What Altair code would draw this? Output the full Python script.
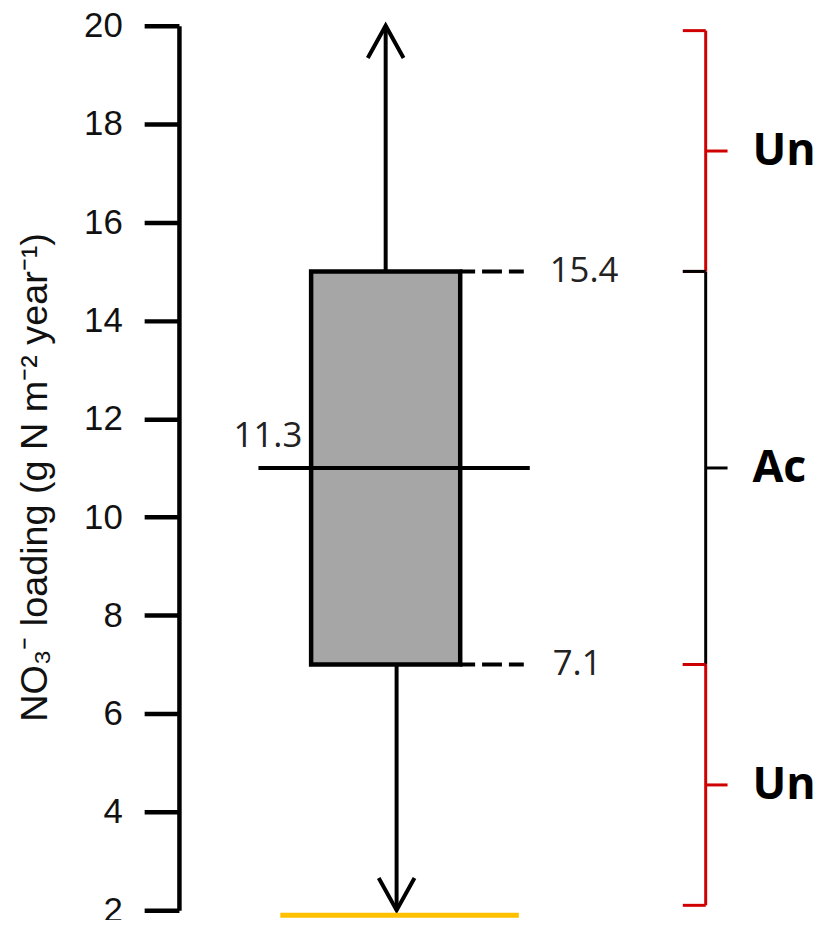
import altair as alt
import pandas as pd

# ---- data ----
y_ticks = [2, 4, 6, 8, 10, 12, 14, 16, 18, 20]
box_low = [7.0]
box_high = [15.0]
median = [11.0]
whisker_top = [20.0]
whisker_bottom = [2.0]
floor_level = [1.9]
value_labels = ["15.4", "11.3", "7.1"]
label_levels = [15.0, 11.0, 7.0]
brace_low = [2.1, 7.0, 15.0]
brace_high = [7.0, 15.0, 19.9]
brace_names = ["Un", "Ac", "Un"]
brace_colors = ["#d00000", "#000000", "#d00000"]

TITLE = "NO₃⁻ loading (g N m⁻² year⁻¹)"
yscale = alt.Scale(domain=[2, 20], nice=False, zero=False)
yaxis = alt.Axis(
    values=y_ticks, format="d",
    title=TITLE,
    titleFont="Liberation Sans", titleFontSize=38, titleFontWeight="normal",
    titleColor="#111111", titleX=-144, titleY=454, titleAngle=270,
    titleAlign="center", titleBaseline="middle",
    labelFont="Liberation Sans", labelFontSize=35, labelColor="#111111",
    labelPadding=22, labelFlush=False, labelOverlap=False,
    tickSize=35, tickWidth=4.5, tickColor="black",
    domainWidth=4.5, domainColor="black", grid=False,
)

def Y(field):
    return alt.Y(field, type="quantitative", scale=yscale, axis=yaxis, title=TITLE)

box_df = pd.DataFrame({"lo": box_low, "hi": box_high})
box = alt.Chart(box_df).mark_rect(fill="#a6a6a6", stroke="black", strokeWidth=4.5).encode(
    x=alt.value(133), x2=alt.value(283), y=Y("lo"), y2="hi:Q")

wt_df = pd.DataFrame({"a": box_high, "b": whisker_top})
wtop = alt.Chart(wt_df).mark_rule(color="black", strokeWidth=4).encode(
    x=alt.value(208), y=Y("a"), y2="b:Q")
wb_df = pd.DataFrame({"a": box_low, "b": whisker_bottom})
wbot = alt.Chart(wb_df).mark_rule(color="black", strokeWidth=4).encode(
    x=alt.value(219), y=Y("a"), y2="b:Q")

head_top = alt.Chart(pd.DataFrame({"v": whisker_top})).mark_point(
    shape="M-1,1.8L0,0L1,1.8", filled=False, size=1296, strokeWidth=4,
    color="black", opacity=1, strokeJoin="miter").encode(x=alt.value(208), y=Y("v"))
head_bot = alt.Chart(pd.DataFrame({"v": whisker_bottom})).mark_point(
    shape="M-1,-1.8L0,0L1,-1.8", filled=False, size=1296, strokeWidth=4,
    color="black", opacity=1, strokeJoin="miter").encode(x=alt.value(219), y=Y("v"))

med = alt.Chart(pd.DataFrame({"v": median})).mark_rule(color="black", strokeWidth=4).encode(
    x=alt.value(80), x2=alt.value(353), y=Y("v"))

dash_df = pd.DataFrame({"v": box_high + box_low})
dashes = alt.Chart(dash_df).mark_rule(color="black", strokeWidth=4, strokeDash=[15, 7, 20, 7]).encode(
    x=alt.value(283), x2=alt.value(352), y=Y("v"))

floor = alt.Chart(pd.DataFrame({"v": floor_level})).mark_rule(color="#ffc000", strokeWidth=5).encode(
    x=alt.value(102), x2=alt.value(342), y=Y("v"))

def vlabel(i, xpos, dy, baseline):
    df = pd.DataFrame({"t": [value_labels[i]], "v": [label_levels[i]]})
    return alt.Chart(df).mark_text(font="Open Sans", fontSize=35, color="#222222",
                                   align="left", baseline=baseline, dy=dy).encode(
        x=alt.value(xpos), y=Y("v"), text="t:N")

lab1 = vlabel(0, 373, 0, "middle")
lab2 = vlabel(1, 55, -21, "alphabetic")
lab3 = vlabel(2, 376, 0, "middle")

br_df = pd.DataFrame({"lo": brace_low, "hi": brace_high, "name": brace_names, "col": brace_colors})
br_df["mid"] = (br_df["lo"] + br_df["hi"]) / 2
colr = alt.Color("col:N", scale=None)
br_v = alt.Chart(br_df).mark_rule(strokeWidth=3).encode(
    x=alt.value(530), y=Y("lo"), y2="hi:Q", color=colr)
hook_df = pd.concat([br_df[["lo", "col"]].rename(columns={"lo": "v"}),
                     br_df[["hi", "col"]].rename(columns={"hi": "v"})])
br_h = alt.Chart(hook_df).mark_rule(strokeWidth=3).encode(
    x=alt.value(507), x2=alt.value(530), y=Y("v"), color=colr)
br_t = alt.Chart(br_df).mark_rule(strokeWidth=3).encode(
    x=alt.value(530), x2=alt.value(552), y=Y("mid"), color=colr)
br_txt = alt.Chart(br_df).mark_text(font="Open Sans", fontWeight="bold", fontSize=45,
                                    color="black", align="left", baseline="middle").encode(
    x=alt.value(577), y=Y("mid"), text="name:N")

chart = alt.layer(box, wtop, wbot, head_top, head_bot, med, dashes, floor,
                  lab1, lab2, lab3, br_v, br_h, br_t, br_txt).properties(
    width=630, height=890,
    autosize=alt.AutoSizeParams(type="none"),
    padding={"left": 172, "top": 15, "right": 12, "bottom": 7},
).configure_view(strokeWidth=0)

chart.save("out.html", embed_options={"renderer": "svg", "actions": False})
